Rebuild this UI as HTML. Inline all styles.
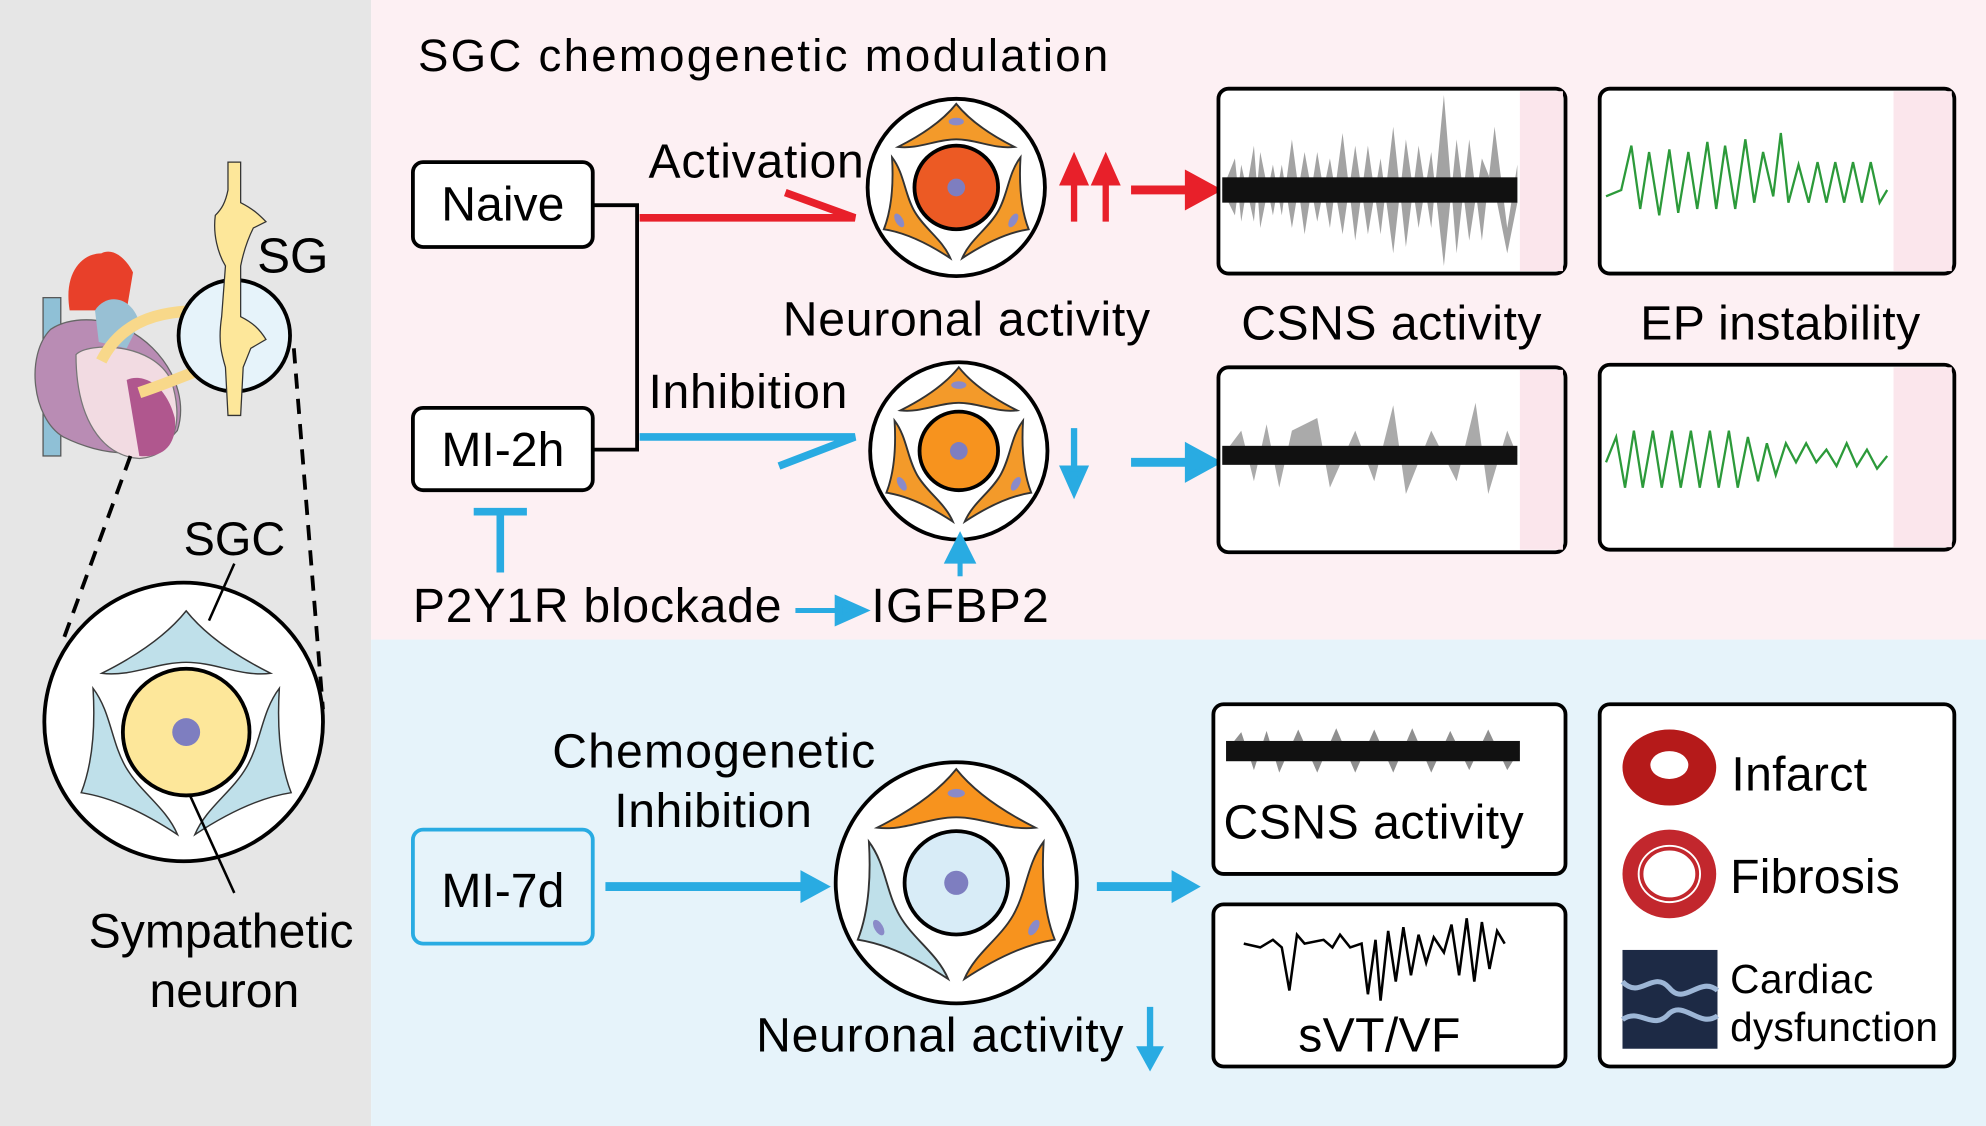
<!DOCTYPE html>
<html><head><style>
html,body{margin:0;padding:0;width:1986px;height:1126px;overflow:hidden;background:#fff}
svg{display:block}
text{font-family:"Liberation Sans",Arial,sans-serif;fill:#000}
</style></head><body>
<svg width="1986" height="1126" viewBox="0 0 1568 889" xmlns="http://www.w3.org/2000/svg">
<defs>
<path id="sp" d="M0,-66 C-8,-56 -22,-44 -46,-32 C-30,-30 -16,-38 0,-38 C16,-38 30,-30 46,-32 C22,-44 8,-56 0,-66Z"/>
<g id="cellO">
<circle r="70" fill="#fff" stroke="#000" stroke-width="3"/>
<g fill="#f39a2a" stroke="#333" stroke-width="1.5">
<use href="#sp"/><use href="#sp" transform="rotate(120)"/><use href="#sp" transform="rotate(240)"/>
</g>
<g fill="#8a8ac8"><ellipse cx="0" cy="-52" rx="6" ry="3"/><ellipse transform="rotate(120)" cx="0" cy="-52" rx="6" ry="3"/><ellipse transform="rotate(240)" cx="0" cy="-52" rx="6" ry="3"/></g>
</g>
</defs>

<rect x="0" y="0" width="293" height="889" fill="#e6e6e6"/>
<rect x="293" y="0" width="1275" height="505" fill="#fdf0f3"/>
<rect x="293" y="505" width="1275" height="384" fill="#e6f3fa"/>

<!-- left panel -->
<g>
<rect x="34" y="235" width="14" height="125" fill="#8fc0d6" stroke="#555"/>
<path d="M55,245 C50,215 65,200 80,200 C90,195 100,205 105,215 L100,245 Z" fill="#e8402a"/>
<path d="M40,260 C20,280 25,330 50,345 C80,360 120,365 140,340 C150,310 130,275 100,260 C80,250 55,250 40,260Z" fill="#b98cb4" stroke="#666"/>
<path d="M60,280 C70,270 120,270 135,300 C145,330 140,360 110,362 C80,360 60,330 60,280Z" fill="#f2dbe2" stroke="#777"/>
<path d="M100,300 C110,295 130,300 138,330 C140,350 130,362 110,360 Z" fill="#b0578e"/>
<path d="M75,245 C85,230 105,235 110,255 L100,275 L78,270Z" fill="#98c0d4"/>
<path d="M80,285 C100,245 140,245 175,245" stroke="#f8d88a" stroke-width="9" fill="none"/>
<path d="M110,310 C140,300 160,290 178,285" stroke="#f8d88a" stroke-width="9" fill="none"/>
<circle cx="185" cy="265" r="44" fill="#e6f3fa" stroke="#000" stroke-width="3"/>
<path d="M180,128 L190,128 L190,160 C200,165 205,170 210,175 L200,180 C195,190 192,200 190,210 L190,250 C200,255 205,260 210,268 L198,275 L192,290 L190,328 L180,328 L178,290 C175,280 172,270 175,250 L178,210 C172,200 168,185 170,170 C175,165 178,160 180,150Z" fill="#fde79a" stroke="#333" stroke-width="1"/>
<text x="203" y="215" font-size="39">SG</text>
<line x1="103" y1="360" x2="50" y2="505" stroke="#000" stroke-width="3" stroke-dasharray="12,8"/>
<line x1="232" y1="275" x2="255" y2="560" stroke="#000" stroke-width="3" stroke-dasharray="12,8"/>
<text x="145" y="438" font-size="37">SGC</text>
<circle cx="145" cy="570" r="110" fill="#fff" stroke="#000" stroke-width="3"/>
<g transform="translate(147,578) scale(1.45)" fill="#bfe0ea" stroke="#333" stroke-width="0.8">
<use href="#sp"/><use href="#sp" transform="rotate(120)"/><use href="#sp" transform="rotate(240)"/>
</g>
<circle cx="147" cy="578" r="50" fill="#fde79a" stroke="#000" stroke-width="3"/>
<circle cx="147" cy="578" r="11" fill="#7e7ec0"/>
<line x1="165" y1="490" x2="185" y2="445" stroke="#000" stroke-width="2"/>
<line x1="150" y1="628" x2="185" y2="705" stroke="#000" stroke-width="2"/>
<text x="70" y="748" font-size="38">Sympathetic</text>
<text x="118" y="795" font-size="38">neuron</text>
</g>

<!-- top -->
<text x="330" y="56" font-size="36" textLength="545">SGC chemogenetic modulation</text>
<rect x="326" y="128" width="142" height="67" rx="8" fill="#fff" stroke="#000" stroke-width="3"/>
<text x="397" y="174" font-size="38" text-anchor="middle">Naive</text>
<rect x="326" y="322" width="142" height="65" rx="8" fill="#fff" stroke="#000" stroke-width="3"/>
<text x="397" y="368" font-size="38" text-anchor="middle">MI-2h</text>
<polyline points="468,162 503,162 503,355 468,355" fill="none" stroke="#000" stroke-width="3"/>
<path d="M505,172 L675,172 L620,152" fill="none" stroke="#e8202a" stroke-width="6"/>
<path d="M505,345 L675,345 L615,368" fill="none" stroke="#29abe2" stroke-width="6"/>
<text x="512" y="140" font-size="38" textLength="170">Activation</text>
<text x="512" y="322" font-size="38" textLength="157">Inhibition</text>

<use href="#cellO" x="755" y="148"/>
<circle cx="755" cy="148" r="33" fill="#ec5a24" stroke="#000" stroke-width="3"/><circle cx="755" cy="148" r="7" fill="#7e7ec0"/>
<use href="#cellO" x="757" y="356"/>
<circle cx="757" cy="356" r="31" fill="#f7931e" stroke="#000" stroke-width="3"/><circle cx="757" cy="356" r="7" fill="#7e7ec0"/>
<text x="618" y="265" font-size="38" textLength="290">Neuronal activity</text>

<g stroke="#e8202a" stroke-width="5" fill="#e8202a">
<line x1="848" y1="175" x2="848" y2="140"/><path d="M840,144 L848,126 L856,144Z"/>
<line x1="873" y1="175" x2="873" y2="140"/><path d="M865,144 L873,126 L881,144Z"/>
<line x1="893" y1="150" x2="940" y2="150" stroke-width="7"/><path d="M938,138 L960,150 L938,162Z"/>
<line x1="1218" y1="172" x2="1218" y2="140" stroke-width="6"/><path d="M1206,142 L1218,120 L1230,142Z"/>
<line x1="1518" y1="175" x2="1518" y2="145" stroke-width="6"/><path d="M1506,147 L1518,125 L1530,147Z"/>
</g>

<rect x="962" y="70" width="274" height="146" rx="8" fill="#fff" stroke="#000" stroke-width="3"/>
<rect x="1200" y="72" width="34" height="142" fill="#fbe6ec"/>
<path d="M965,150 L975,125 980,175 990,115 995,180 1005,130 1012,170 1020,110 1030,185 1040,120 1050,180 1060,105 1070,190 1080,115 1090,185 1100,100 1110,195 1120,115 1130,180 1140,75 1150,200 1160,110 1170,190 1180,100 1190,180 1198,130 1198,160 1190,200 1180,150 1170,125 1160,190 1150,110 1140,210 1130,120 1120,180 1110,110 1100,200 1090,125 1080,185 1070,115 1060,185 1050,125 1040,175 1030,120 1020,180 1012,130 1005,170 995,120 990,175 980,130 975,170 965,150Z" fill="#666" opacity="0.6"/>
<rect x="965" y="140" width="233" height="20" fill="#111"/>
<rect x="1263" y="70" width="280" height="146" rx="8" fill="#fff" stroke="#000" stroke-width="3"/>
<rect x="1495" y="72" width="46" height="142" fill="#fbe6ec"/>
<polyline points="1268,155 1280,150 1288,115 1295,165 1302,120 1310,170 1318,118 1325,168 1333,120 1340,165 1348,112 1355,165 1362,115 1370,165 1378,110 1385,160 1392,120 1400,155 1406,105 1412,160 1420,130 1428,160 1435,128 1442,160 1449,128 1456,160 1463,128 1470,160 1477,128 1484,160 1490,150" fill="none" stroke="#2c9a3a" stroke-width="1.8"/>
<text x="980" y="268" font-size="38" textLength="237">CSNS activity</text>
<text x="1295" y="268" font-size="38" textLength="221">EP instability</text>

<g stroke="#29abe2" stroke-width="5" fill="#29abe2">
<line x1="848" y1="338" x2="848" y2="372"/><path d="M840,370 L848,388 L856,370Z"/>
<line x1="893" y1="365" x2="940" y2="365" stroke-width="7"/><path d="M938,353 L960,365 L938,377Z"/>
<line x1="1218" y1="340" x2="1218" y2="370" stroke-width="6"/><path d="M1206,368 L1218,390 L1230,368Z"/>
<line x1="1518" y1="340" x2="1518" y2="370" stroke-width="6"/><path d="M1506,368 L1518,390 L1530,368Z"/>
</g>
<rect x="962" y="290" width="274" height="146" rx="8" fill="#fff" stroke="#000" stroke-width="3"/>
<rect x="1200" y="292" width="34" height="142" fill="#fbe6ec"/>
<path d="M965,360 L980,340 990,380 1000,335 1010,385 1020,340 1040,330 1050,385 1070,340 1085,380 1100,320 1110,390 1130,340 1150,380 1165,318 1175,390 1190,340 1198,360 Z" fill="#555" opacity="0.5"/>
<rect x="965" y="352" width="233" height="15" fill="#111"/>
<rect x="1263" y="288" width="280" height="146" rx="8" fill="#fff" stroke="#000" stroke-width="3"/>
<rect x="1495" y="290" width="46" height="142" fill="#fbe6ec"/>
<polyline points="1268,365 1276,345 1283,385 1290,340 1297,385 1305,340 1312,385 1320,340 1327,385 1335,340 1342,385 1350,340 1357,385 1365,340 1372,385 1380,345 1388,380 1395,350 1402,375 1410,350 1418,365 1426,350 1434,365 1442,355 1450,368 1458,350 1466,368 1474,355 1482,370 1490,360" fill="none" stroke="#2c9a3a" stroke-width="1.8"/>

<g stroke="#29abe2" stroke-width="6" fill="#29abe2">
<line x1="395" y1="405" x2="395" y2="452"/><line x1="374" y1="404" x2="416" y2="404"/>
<line x1="628" y1="482" x2="665" y2="482" stroke-width="4"/><path d="M662,474 L680,482 L662,490Z"/>
<line x1="758" y1="455" x2="758" y2="440" stroke-width="4"/><path d="M750,442 L758,426 L766,442Z"/>
</g>
<text x="326" y="491" font-size="38" textLength="291">P2Y1R blockade</text>
<text x="688" y="491" font-size="38" textLength="140">IGFBP2</text>

<!-- bottom -->
<text x="436" y="606" font-size="38" textLength="255">Chemogenetic</text>
<text x="485" y="653" font-size="38" textLength="156">Inhibition</text>
<rect x="326" y="655" width="142" height="90" rx="8" fill="#e6f3fa" stroke="#29abe2" stroke-width="3"/>
<text x="397" y="716" font-size="38" text-anchor="middle">MI-7d</text>
<g stroke="#29abe2" stroke-width="7" fill="#29abe2">
<line x1="478" y1="700" x2="635" y2="700"/><path d="M632,687 L656,700 L632,713Z" stroke="none"/>
<line x1="866" y1="700" x2="928" y2="700"/><path d="M925,687 L948,700 L925,713Z" stroke="none"/>
<line x1="908" y1="795" x2="908" y2="830" stroke-width="5"/><path d="M897,826 L908,846 L919,826Z" stroke="none"/>
<line x1="1218" y1="600" x2="1218" y2="635" stroke-width="5"/><path d="M1207,632 L1218,652 L1229,632Z" stroke="none"/>
<line x1="1218" y1="755" x2="1218" y2="790" stroke-width="5"/><path d="M1207,787 L1218,807 L1229,787Z" stroke="none"/>
<line x1="1518" y1="588" x2="1518" y2="620" stroke-width="5"/><path d="M1507,617 L1518,637 L1529,617Z" stroke="none"/>
<line x1="1518" y1="670" x2="1518" y2="702" stroke-width="5"/><path d="M1507,699 L1518,719 L1529,699Z" stroke="none"/>
<line x1="1518" y1="745" x2="1518" y2="777" stroke-width="5"/><path d="M1507,774 L1518,794 L1529,774Z" stroke="none"/>
</g>
<g transform="translate(755,697) scale(1.36)">
<circle r="70" fill="#fff" stroke="#000" stroke-width="2.2"/>
<g stroke="#333" stroke-width="1.1">
<use href="#sp" fill="#f7931e"/>
<use href="#sp" fill="#f7931e" transform="rotate(120)"/>
<use href="#sp" fill="#bfe0ea" transform="rotate(240)"/>
</g>
<g fill="#8a8ac8"><ellipse cx="0" cy="-52" rx="5" ry="2.5"/><ellipse transform="rotate(120)" cx="0" cy="-52" rx="5" ry="2.5"/><ellipse transform="rotate(240)" cx="0" cy="-52" rx="5" ry="2.5"/></g>
<circle r="30" fill="#d8ecf7" stroke="#000" stroke-width="2.2"/><circle r="7" fill="#7e7ec0"/>
</g>
<text x="597" y="830" font-size="38" textLength="290">Neuronal activity</text>

<rect x="958" y="556" width="278" height="134" rx="8" fill="#fff" stroke="#000" stroke-width="3"/>
<path d="M968,593 L980,578 990,608 1000,577 1010,610 1025,576 1040,610 1055,575 1070,610 1085,576 1100,610 1115,575 1130,610 1145,577 1160,608 1175,576 1190,608 1200,592 Z" fill="#444" opacity="0.6"/>
<rect x="968" y="585" width="232" height="16" fill="#111"/>
<text x="966" y="662" font-size="38" textLength="237">CSNS activity</text>
<rect x="958" y="714" width="278" height="128" rx="8" fill="#fff" stroke="#000" stroke-width="3"/>
<polyline points="982,745 995,748 1005,742 1012,748 1018,782 1024,738 1030,745 1045,742 1052,748 1058,738 1066,748 1075,745 1080,785 1086,742 1090,790 1096,735 1102,775 1108,732 1114,770 1120,738 1126,760 1132,740 1140,752 1146,730 1152,770 1158,725 1164,775 1170,728 1176,765 1182,735 1188,745" fill="none" stroke="#000" stroke-width="2"/>
<text x="1025" y="830" font-size="38" textLength="128">sVT/VF</text>

<rect x="1263" y="556" width="280" height="286" rx="8" fill="#fff" stroke="#000" stroke-width="3"/>
<ellipse cx="1318" cy="606" rx="37" ry="30" fill="#b51a1a"/>
<ellipse cx="1318" cy="604" rx="15" ry="11" fill="#fff"/>
<ellipse cx="1318" cy="690" rx="37" ry="35" fill="#c2272d"/>
<ellipse cx="1318" cy="690" rx="25" ry="23" fill="#fff"/>
<ellipse cx="1318" cy="690" rx="22" ry="20" fill="none" stroke="#c2272d" stroke-width="3"/>
<rect x="1281" y="750" width="75" height="78" fill="#1d2a45"/>
<path d="M1281,775 C1295,790 1305,765 1318,780 C1330,795 1342,770 1356,782" stroke="#9db6d6" stroke-width="4" fill="none"/>
<path d="M1281,805 C1295,795 1305,815 1318,800 C1330,790 1342,812 1356,802" stroke="#9db6d6" stroke-width="4" fill="none"/>
<text x="1367" y="624" font-size="38" textLength="107">Infarct</text>
<text x="1366" y="705" font-size="38" textLength="134">Fibrosis</text>
<text x="1366" y="784" font-size="32" textLength="113">Cardiac</text>
<text x="1366" y="822" font-size="32" textLength="164">dysfunction</text>
</svg>
</body></html>
